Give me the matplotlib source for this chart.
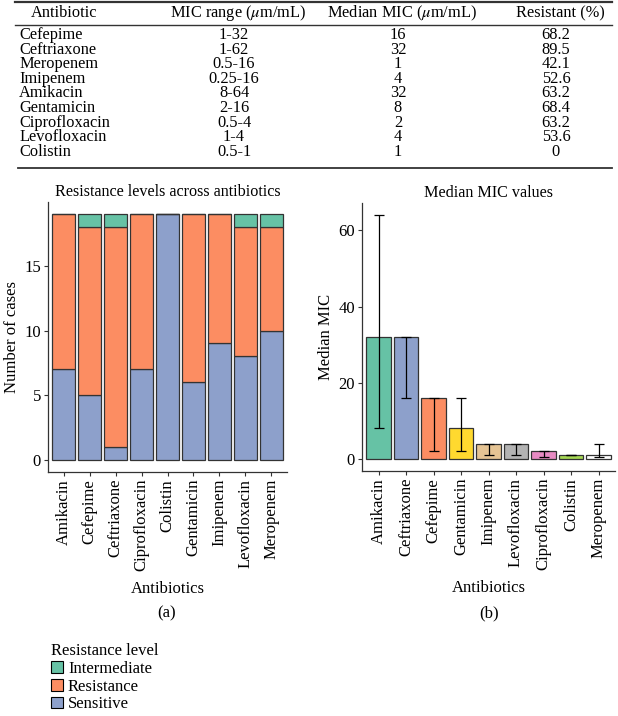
import numpy as np
import matplotlib
matplotlib.use("Agg")
import matplotlib.pyplot as plt
from matplotlib.patches import Patch
from matplotlib.lines import Line2D

plt.rcParams['font.family'] = ['Liberation Serif', 'DejaVu Serif']
plt.rcParams['mathtext.fontset'] = 'stix'

# table data
tab_names = ["Cefepime", "Ceftriaxone", "Meropenem", "Imipenem", "Amikacin",
             "Gentamicin", "Ciprofloxacin", "Levofloxacin", "Colistin"]
tab_range = ["1-32", "1-62", "0.5-16", "0.25-16", "8-64", "2-16", "0.5-4", "1-4", "0.5-1"]
tab_median = ["16", "32", "1", "4", "32", "8", "2", "4", "1"]
tab_resist = ["68.2", "89.5", "42.1", "52.6", "63.2", "68.4", "63.2", "53.6", "0"]

# panel a: counts per resistance level
a_names = ["Amikacin", "Cefepime", "Ceftriaxone", "Ciprofloxacin", "Colistin",
           "Gentamicin", "Imipenem", "Levofloxacin", "Meropenem"]
sensitive = [7, 5, 1, 7, 19, 6, 9, 8, 10]
resistance = [12, 13, 17, 12, 0, 13, 10, 10, 8]
intermediate = [0, 1, 1, 0, 0, 0, 0, 1, 1]

# panel b: median MIC with range
b_names = ["Amikacin", "Ceftriaxone", "Cefepime", "Gentamicin", "Imipenem",
           "Levofloxacin", "Ciprofloxacin", "Colistin", "Meropenem"]
b_median = [32, 32, 16, 8, 4, 4, 2, 1, 1]
b_low = [8, 16, 2, 2, 1, 1, 0.5, 1, 0.5]
b_high = [64, 32, 16, 16, 4, 4, 2, 1, 4]
b_colors = ["#66C2A5", "#8DA0CB", "#FC8D62", "#FFD92F", "#E5C494",
            "#B3B3B3", "#E78AC3", "#A6D854", "#FFFFFF"]

col_int, col_res, col_sen = "#66C2A5", "#FC8D62", "#8DA0CB"

W, H = 618, 716
fig = plt.figure(figsize=(W / 100, H / 100), dpi=100)

def fx(x):
    return x / W

def fy(y):
    return 1 - y / H

# ---------------- table ----------------
fs_tab = 11.8
fig.add_artist(Line2D([fx(15), fx(612)], [fy(1.5), fy(1.5)], color="#333333", lw=1.6))
fig.add_artist(Line2D([fx(15), fx(612)], [fy(25), fy(25)], color="#333333", lw=1.0))
fig.add_artist(Line2D([fx(18), fx(612)], [fy(168), fy(168)], color="#333333", lw=1.3))

hy = fy(13)
fig.text(fx(31), hy, "Antibiotic", fontsize=fs_tab, va="center", ha="left")
fig.text(fx(238), hy, r"MIC range ($\mu$m/mL)", fontsize=fs_tab, va="center", ha="center")
fig.text(fx(402), hy, r"Median MIC ($\mu$m/mL)", fontsize=fs_tab, va="center", ha="center")
fig.text(fx(560), hy, "Resistant (%)", fontsize=fs_tab, va="center", ha="center")

for i in range(len(tab_names)):
    y = fy(35 + i * 14.6)
    fig.text(fx(19), y, tab_names[i], fontsize=fs_tab, va="center", ha="left")
    fig.text(fx(234), y, tab_range[i], fontsize=fs_tab, va="center", ha="center")
    fig.text(fx(398), y, tab_median[i], fontsize=fs_tab, va="center", ha="center")
    fig.text(fx(556), y, tab_resist[i], fontsize=fs_tab, va="center", ha="center")

# ---------------- panel a ----------------
fs = 12
ax1 = fig.add_axes([fx(48), fy(472), (287 - 48) / W, (472 - 202) / H])
x = np.arange(1, len(a_names) + 1)
s = np.array(sensitive)
r = np.array(resistance)
it = np.array(intermediate)
ec = "#333333"
ax1.bar(x, s, width=0.9, color=col_sen, edgecolor=ec, linewidth=0.9)
ax1.bar(x, r, bottom=s, width=0.9, color=col_res, edgecolor=ec, linewidth=0.9)
ax1.bar(x, it, bottom=s + r, width=0.9, color=col_int, edgecolor=ec, linewidth=0.9)
ax1.set_xlim(0.4, 9.6)
ax1.set_ylim(-0.95, 19.95)
ax1.set_yticks([0, 5, 10, 15])
ax1.set_xticks(x)
ax1.set_xticklabels(a_names, rotation=90)
ax1.set_title("Resistance levels across antibiotics", fontsize=11.6, pad=4)
ax1.set_ylabel("Number of cases", fontsize=fs, labelpad=3)
ax1.set_xlabel("Antibiotics", fontsize=fs, labelpad=7)

# ---------------- panel b ----------------
ax2 = fig.add_axes([fx(362), fy(471), (615 - 362) / W, (471 - 203) / H])
xb = np.arange(1, len(b_names) + 1)
med = np.array(b_median, dtype=float)
yerr = [med - np.array(b_low), np.array(b_high) - med]
ax2.bar(xb, med, width=0.9, color=b_colors, edgecolor=ec, linewidth=0.9)
ax2.errorbar(xb, med, yerr=yerr, fmt="none", ecolor="black", elinewidth=0.9,
             capsize=3.6, capthick=0.9)
ax2.set_xlim(0.4, 9.6)
ax2.set_ylim(-3.2, 67.2)
ax2.set_yticks([0, 20, 40, 60])
ax2.set_xticks(xb)
ax2.set_xticklabels(b_names, rotation=90)
ax2.set_title("Median MIC values", fontsize=11.6, pad=4)
ax2.set_ylabel("Median MIC", fontsize=fs, labelpad=3)
ax2.set_xlabel("Antibiotics", fontsize=fs, labelpad=7)

for ax in (ax1, ax2):
    for side in ("top", "right"):
        ax.spines[side].set_visible(False)
    for side in ("left", "bottom"):
        ax.spines[side].set_color("#333333")
        ax.spines[side].set_linewidth(0.9)
    ax.tick_params(axis="both", labelsize=fs, length=3, width=0.8, color="#333333",
                   pad=2)

fig.text(fx(167), fy(613), "(a)", fontsize=fs, ha="center", va="center")
fig.text(fx(489), fy(613), "(b)", fontsize=fs, ha="center", va="center")

# ---------------- legend ----------------
handles = [Patch(facecolor=col_int, edgecolor="black", linewidth=0.8, label="Intermediate"),
           Patch(facecolor=col_res, edgecolor="black", linewidth=0.8, label="Resistance"),
           Patch(facecolor=col_sen, edgecolor="black", linewidth=0.8, label="Sensitive")]
leg = fig.legend(handles=handles, title="Resistance level", loc="upper left",
                 bbox_to_anchor=(fx(43), fy(635)), frameon=False, fontsize=fs,
                 title_fontsize=fs, handlelength=0.7, handleheight=0.7,
                 handletextpad=0.3, labelspacing=0.1, borderpad=0,
                 alignment="left")

fig.savefig("out.png", dpi=100)
